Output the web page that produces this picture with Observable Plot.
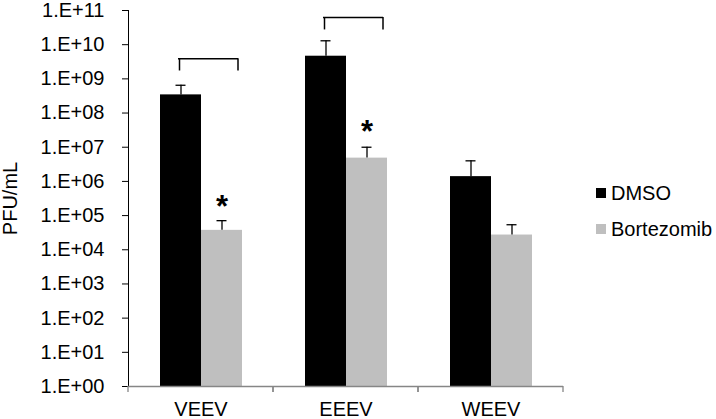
<!DOCTYPE html>
<html>
<head>
<meta charset="utf-8">
<script src="https://cdn.jsdelivr.net/npm/d3@7"></script>
<script src="https://cdn.jsdelivr.net/npm/@observablehq/plot@0.6"></script>
<style>
  html, body { margin: 0; padding: 0; background: #fff; }
  #wrap { position: relative; width: 716px; height: 419px; font-family: "Liberation Sans", Arial, sans-serif; }
  #legend { position: absolute; left: 596px; top: 0; font-size: 20px; color: #000; }
  #legend .item { position: absolute; left: 0; display: flex; align-items: center; height: 24px; line-height: 24px; white-space: nowrap; }
  #legend .sw { width: 10px; height: 10px; margin-right: 5px; }
</style>
</head>
<body>
<div id="wrap"></div>
<script>
// ---- data ----
const viruses = ["VEEV", "EEEV", "WEEV"];
const treatments = ["DMSO", "Bortezomib"];
const treatmentColors = ["#000000", "#bfbfbf"];
const dmsoValues = [3.4e8, 4.6e9, 1.38e6];
const dmsoUpper = [6.5e8, 1.3e10, 4.0e6];
const bortValues = [3.7e4, 4.8e6, 2.7e4];
const bortUpper = [7.1e4, 1.0e7, 5.4e4];
const starViruses = ["VEEV", "EEEV"];
const starY = [1.8e5, 2.7e7];
const bracketViruses = ["VEEV", "EEEV"];
const bracketTop = [3.9e9, 6.2e10];
const bracketBottom = [1.7e9, 2.7e10];
const yTickValues = [1, 1e1, 1e2, 1e3, 1e4, 1e5, 1e6, 1e7, 1e8, 1e9, 1e10, 1e11];
const yTickLabels = ["1.E+00", "1.E+01", "1.E+02", "1.E+03", "1.E+04", "1.E+05", "1.E+06", "1.E+07", "1.E+08", "1.E+09", "1.E+10", "1.E+11"];
const yLabel = "PFU/mL";

// ---- tables built from arrays ----
const rows = [];
viruses.forEach((v, i) => {
  rows.push({virus: v, treatment: treatments[0], value: dmsoValues[i], upper: dmsoUpper[i]});
  rows.push({virus: v, treatment: treatments[1], value: bortValues[i], upper: bortUpper[i]});
});
const stars = starViruses.map((v, i) => ({virus: v, treatment: treatments[1], y: starY[i]}));
const brackets = bracketViruses.map((v, i) => ({virus: v, top: bracketTop[i], bottom: bracketBottom[i]}));

const axisColor = "#868686";

function boundaryTicks(index, scales, values, dimensions, context) {
  const {x, y} = scales;
  const r = x.range();
  const y0 = y(yTickValues[0]);
  const g = d3.create("svg:g").attr("stroke", axisColor).attr("stroke-width", 1.3);
  for (const xv of [r[0], r[1]]) {
    g.append("line").attr("x1", xv).attr("x2", xv).attr("y1", y0).attr("y2", y0 + 6);
  }
  return g.node();
}

const chart = Plot.plot({
  width: 716,
  height: 419,
  marginLeft: 128,
  marginRight: 153,
  marginTop: 10,
  marginBottom: 33,
  style: {fontFamily: "'Liberation Sans', Arial, sans-serif", fontSize: "20px", color: "#000", background: "#fff"},
  fx: {domain: viruses, paddingInner: 0, paddingOuter: 0, axis: "bottom", tickSize: 0, tickPadding: 15, label: null},
  x: {domain: treatments, paddingInner: 0, paddingOuter: 0.745, axis: null},
  y: {
    type: "log", domain: [1, 1e11], ticks: yTickValues,
    tickFormat: d => yTickLabels[yTickValues.indexOf(d)],
    tickSize: 6, tickPadding: 18, line: true,
    label: yLabel, labelArrow: "none", labelAnchor: "center", labelOffset: 126
  },
  color: {domain: treatments, range: treatmentColors},
  marks: [
    Plot.barY(rows, {fx: "virus", x: "treatment", y1: 1, y2: "value", fill: "treatment"}),
    Plot.ruleY([1], {stroke: axisColor, strokeWidth: 1.3}),
    boundaryTicks,
    Plot.ruleX(rows, {fx: "virus", x: "treatment", y1: "value", y2: "upper", stroke: "#000", strokeWidth: 1.3}),
    Plot.tickY(rows, {fx: "virus", x: "treatment", y: "upper", stroke: "#000", strokeWidth: 1.3, insetLeft: 15.5, insetRight: 15.5}),
    Plot.text(stars, {fx: "virus", x: "treatment", y: "y", text: () => "*", fontSize: 31, fontWeight: "bold", fill: "#000"}),
    Plot.ruleY(brackets, {fx: "virus", x1: () => treatments[0], x2: () => treatments[1], y: "top", stroke: "#000", strokeWidth: 1.5, insetLeft: 18, insetRight: 4}),
    Plot.ruleX(brackets, {fx: "virus", x: () => treatments[0], y1: "bottom", y2: "top", stroke: "#000", strokeWidth: 1.5, dx: -1.5}),
    Plot.ruleX(brackets, {fx: "virus", x: () => treatments[1], y1: "bottom", y2: "top", stroke: "#000", strokeWidth: 1.5, dx: 16})
  ]
});

const wrap = document.getElementById("wrap");
wrap.appendChild(chart);
// remove any automatic arrow from the y label and gray the axis
d3.select(chart).selectAll("[aria-label='y-axis tick'], [aria-label='y-axis line']").attr("stroke", axisColor);
d3.select(chart).selectAll("[aria-label='y-axis label'] text").text(yLabel);

const legend = document.createElement("div");
legend.id = "legend";
treatments.forEach((t, i) => {
  const item = document.createElement("div");
  item.className = "item";
  item.style.top = (181 + i * 35.5) + "px";
  const sw = document.createElement("span");
  sw.className = "sw";
  sw.style.background = treatmentColors[i];
  item.appendChild(sw);
  item.appendChild(document.createTextNode(t));
  legend.appendChild(item);
});
wrap.appendChild(legend);
</script>
</body>
</html>
